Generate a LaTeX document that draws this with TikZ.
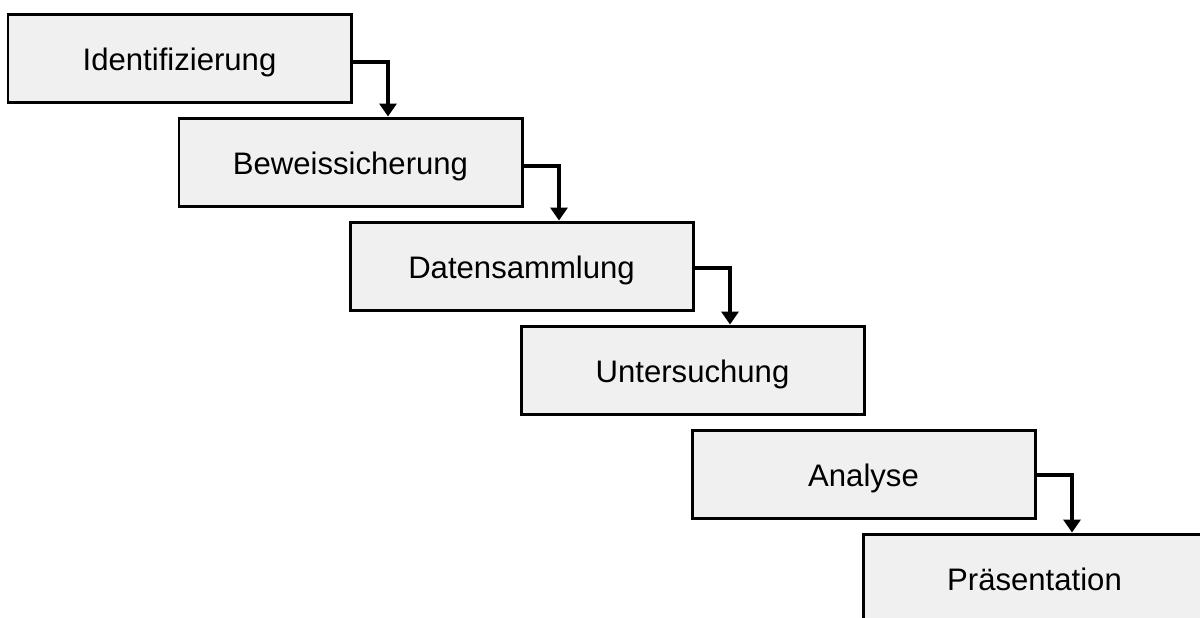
\documentclass[tikz,border=0pt]{standalone}
\usepackage{fontspec}
\setmainfont{Liberation Sans}
\usetikzlibrary{arrows.meta}
\definecolor{boxgray}{HTML}{F0F0F0}
\tikzset{
  phase/.style={draw=black, line width=1.7pt, fill=boxgray, minimum width=6.86cm, minimum height=1.76cm, text height=0.48cm, text depth=0cm, font=\fontsize{17.7}{20}\selectfont},
  conn/.style={line width=2.2pt, -{Triangle[width=0.34cm,length=0.26cm]}}
}
\begin{document}
\begin{tikzpicture}
\clip (0,0) rectangle (24,-12.34);
\useasboundingbox (0,0) rectangle (24,-12.34);

\node [phase] (ident) at (3.59,-1.16) {Identifizierung};
\node [phase] (bew) at (7.01,-3.24) {Beweissicherung};
\node [phase] (daten) at (10.43,-5.32) {Datensammlung};
\node [phase] (unters) at (13.85,-7.40) {Untersuchung};
\node [phase] (analyse) at (17.27,-9.48) {Analyse};
\node [phase] (praes) at (20.69,-11.56) {Präsentation};

\draw [conn] ([yshift=-0.08cm]ident.east) -| ([xshift=0.75cm]bew.north);
\draw [conn] ([yshift=-0.08cm]bew.east) -| ([xshift=0.75cm]daten.north);
\draw [conn] ([yshift=-0.04cm]daten.east) -| ([xshift=0.75cm]unters.north);
\draw [conn] ([yshift=-0.02cm]analyse.east) -| ([xshift=0.75cm]praes.north);

\end{tikzpicture}
\end{document}
